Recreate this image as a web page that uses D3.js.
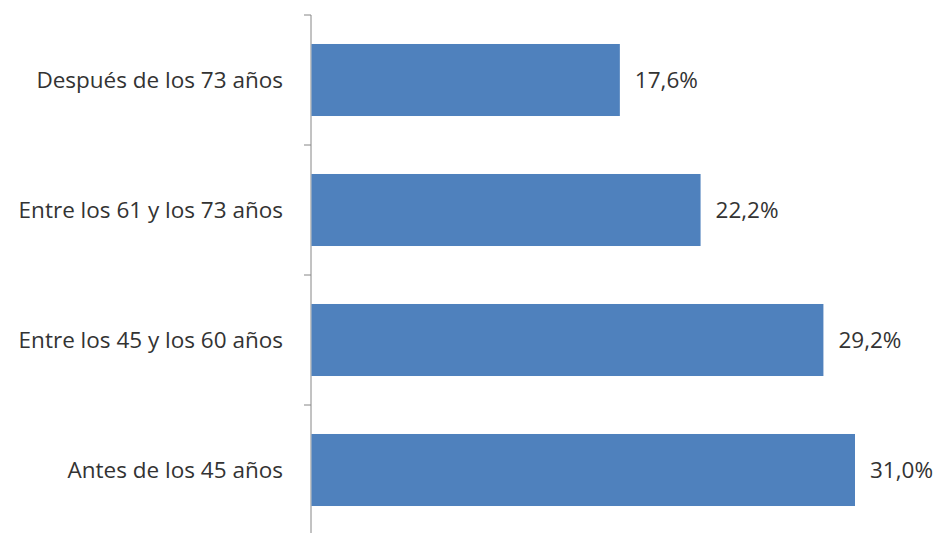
<!DOCTYPE html>
<html><head><meta charset="utf-8">
<script src="https://cdn.jsdelivr.net/npm/d3@7"></script>
<style>body{margin:0;background:#fff}</style>
</head><body>
<svg id="c" width="941" height="533"></svg>
<script>
const categories = ["Después de los 73 años","Entre los 61 y los 73 años","Entre los 45 y los 60 años","Antes de los 45 años"];
const values = [17.6, 22.2, 29.2, 31.0];
const valueLabels = ["17,6%","22,2%","29,2%","31,0%"];

const svg = d3.select("#c");
const x0 = 311;
const x = d3.scaleLinear().domain([0, 31.0]).range([x0, 855]);
const y = d3.scaleBand().domain(categories).range([15, 535]).paddingInner(0.446).paddingOuter(0.223);
const font = "Open Sans, sans-serif";

// axis line and ticks
const g = svg.append("g");
g.append("line").attr("x1", x0).attr("x2", x0).attr("y1", 15).attr("y2", 533)
 .attr("stroke", "#868686").attr("stroke-width", 1);
const step = y.step();
const tickYs = d3.range(categories.length + 1).map(i => 15 + i * step);
g.selectAll(".tk").data(tickYs).enter().append("line")
 .attr("x1", x0 - 7).attr("x2", x0).attr("y1", d => d).attr("y2", d => d)
 .attr("stroke", "#868686");

svg.selectAll(".bar").data(categories).enter().append("rect")
 .attr("x", x0 + 0.5).attr("y", d => y(d))
 .attr("width", (d, i) => x(values[i]) - x0 - 0.5).attr("height", y.bandwidth())
 .attr("fill", "#4F81BD");

svg.selectAll(".cl").data(categories).enter().append("text")
 .attr("x", 283).attr("y", d => y(d) + y.bandwidth() / 2)
 .attr("dy", "0.35em").attr("text-anchor", "end")
 .attr("font-family", font).attr("font-size", 22.5).attr("fill", "#333")
 .text(d => d);

svg.selectAll(".vl").data(categories).enter().append("text")
 .attr("x", (d, i) => x(values[i]) + 15).attr("y", d => y(d) + y.bandwidth() / 2)
 .attr("dy", "0.35em")
 .attr("font-family", font).attr("font-size", 22.5).attr("fill", "#333")
 .text((d, i) => valueLabels[i]);
</script>
</body></html>
